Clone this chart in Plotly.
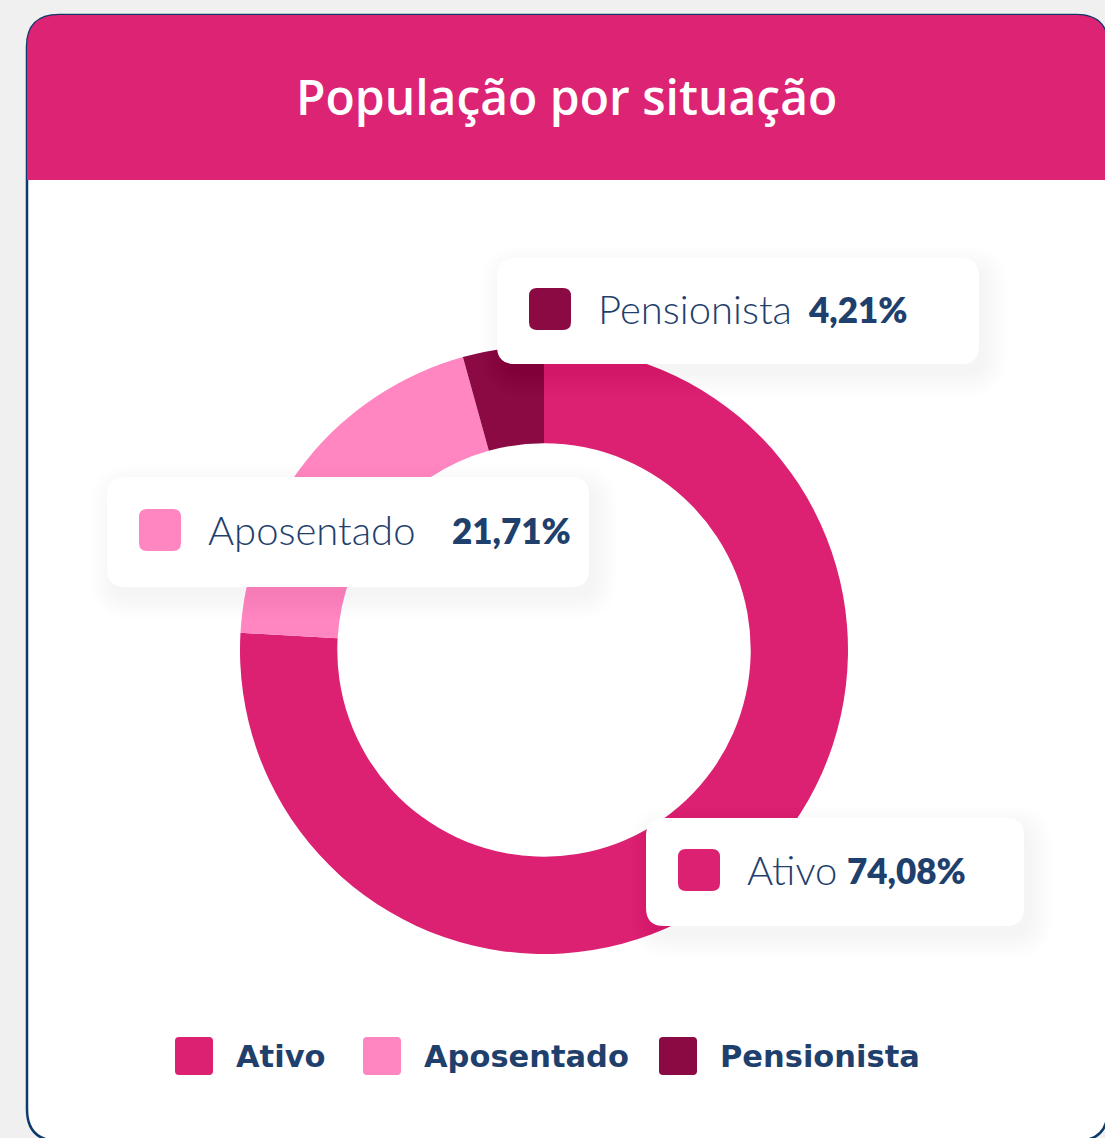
import plotly.graph_objects as go

# data
categorias = ["Ativo", "Aposentado", "Pensionista"]
# slice sizes as drawn in the picture (arc angles), labels as printed
fatias = [75.9, 19.8, 4.3]
rotulos_pct = ["74,08%", "21,71%", "4,21%"]
cores = ["#dc2173", "#ff86c1", "#8b0a43"]

W, H = 1105, 1138
NAVY = "#1f3f6d"


def px(x):
    return x / W


def py(y):
    return 1 - y / H


def rounded_rect(x0, y0, x1, y1, r, top_only=False):
    # pixel box -> paper path, corners with quadratic curves
    rb = 0 if top_only else r
    pts = [
        f"M{px(x0 + r)},{py(y0)}",
        f"L{px(x1 - r)},{py(y0)}",
        f"Q{px(x1)},{py(y0)} {px(x1)},{py(y0 + r)}",
        f"L{px(x1)},{py(y1 - rb)}",
        f"Q{px(x1)},{py(y1)} {px(x1 - rb)},{py(y1)}",
        f"L{px(x0 + rb)},{py(y1)}",
        f"Q{px(x0)},{py(y1)} {px(x0)},{py(y1 - rb)}",
        f"L{px(x0)},{py(y0 + r)}",
        f"Q{px(x0)},{py(y0)} {px(x0 + r)},{py(y0)}",
        "Z",
    ]
    return " ".join(pts)


fig = go.Figure()

# donut: centre (543, 650), outer radius 304
cx, cy, R = 544, 650, 304
fig.add_trace(
    go.Pie(
        labels=categorias,
        values=fatias,
        hole=0.68,
        sort=False,
        direction="clockwise",
        rotation=0,
        marker=dict(colors=cores, line=dict(width=0)),
        textinfo="none",
        hoverinfo="label",
        showlegend=False,
        domain=dict(x=[px(cx - R), px(cx + R)], y=[py(cy + R), py(cy - R)]),
    )
)

shapes = []
annotations = []

# card + header
shapes.append(dict(type="path", xref="paper", yref="paper", layer="below",
                   path=rounded_rect(27, 15, 1108, 1141, 32),
                   fillcolor="white", line=dict(color="#0e3a6b", width=2.5)))
shapes.append(dict(type="path", xref="paper", yref="paper", layer="below",
                   path=rounded_rect(27, 15, 1108, 180, 32, top_only=True),
                   fillcolor="#dc2374", line=dict(width=0)))

annotations.append(dict(
    text="População por situação", x=px(566), y=py(96), xref="paper", yref="paper",
    xanchor="center", yanchor="middle", showarrow=False,
    font=dict(family="Open Sans", size=48, color="white", weight=600),
))

# callout boxes: (box x0, y0, x1, y1, value x)
caixas = {
    "Pensionista": (497, 258, 979, 364, 806),
    "Aposentado": (107, 477, 589, 587, 450),
    "Ativo": (646, 818, 1024, 926, 845),
}

for cat, txt, cor in zip(categorias, rotulos_pct, cores):
    x0, y0, x1, y1, vx = caixas[cat]
    # soft shadow
    for i in range(10):
        e = i * 2.5
        shapes.append(dict(type="path", xref="paper", yref="paper", layer="above",
                           path=rounded_rect(x0 + 6 - e, y0 + 10 - e, x1 + 6 + e, y1 + 10 + e, 18 + e),
                           fillcolor="rgba(60,65,85,0.005)", line=dict(width=0)))
    shapes.append(dict(type="path", xref="paper", yref="paper", layer="above",
                       path=rounded_rect(x0, y0, x1, y1, 18),
                       fillcolor="white", line=dict(width=0)))
    mid = (y0 + y1) / 2 - 2
    shapes.append(dict(type="path", xref="paper", yref="paper", layer="above",
                       path=rounded_rect(x0 + 32, mid - 21, x0 + 74, mid + 21, 8),
                       fillcolor=cor, line=dict(width=0)))
    annotations.append(dict(
        text=cat, x=px(x0 + 99), y=py(mid), xref="paper", yref="paper",
        xanchor="left", yanchor="middle", showarrow=False,
        font=dict(family="Lato", size=40, color=NAVY, weight=300),
    ))
    annotations.append(dict(
        text=txt, x=px(vx), y=py(mid), xref="paper", yref="paper",
        xanchor="left", yanchor="middle", showarrow=False,
        font=dict(family="Lato", size=35, color=NAVY, weight=800),
    ))

# bottom legend
legenda_x = [175, 363, 659]
for cat, cor, lx in zip(categorias, cores, legenda_x):
    shapes.append(dict(type="path", xref="paper", yref="paper", layer="above",
                       path=rounded_rect(lx, 1037, lx + 38, 1075, 4),
                       fillcolor=cor, line=dict(width=0)))
    annotations.append(dict(
        text=cat, x=px(lx + 59), y=py(1056), xref="paper", yref="paper",
        xanchor="left", yanchor="middle", showarrow=False,
        font=dict(family="DejaVu Sans", size=30.5, color=NAVY, weight=700),
    ))

fig.update_layout(
    width=W,
    height=H,
    margin=dict(l=0, r=0, t=0, b=0),
    paper_bgcolor="#f0f0f0",
    plot_bgcolor="#f0f0f0",
    shapes=shapes,
    annotations=annotations,
    showlegend=False,
)

fig.write_html(
    "out.html",
    config={"displayModeBar": False},
    post_script="document.body.style.margin='0';document.body.style.background='#f0f0f0';",
)
